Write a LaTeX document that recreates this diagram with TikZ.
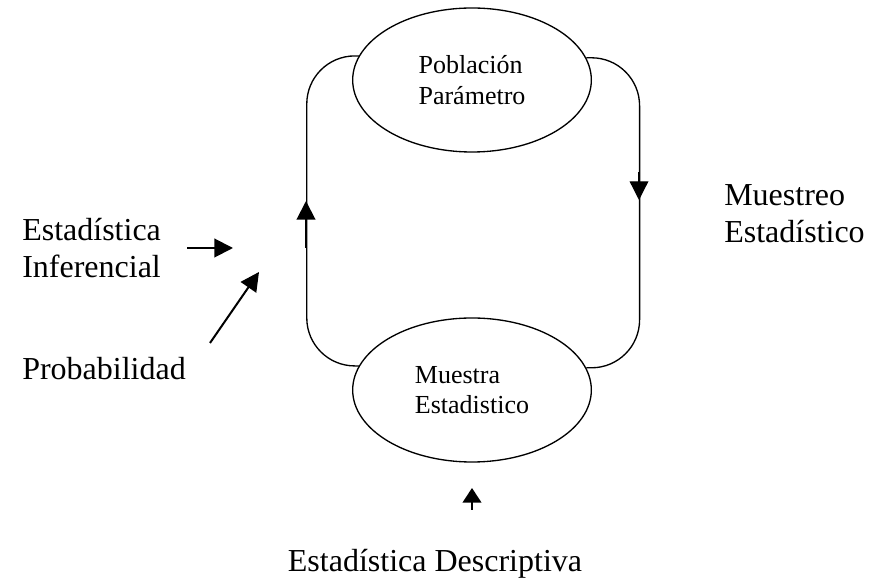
\documentclass[tikz,border=0pt]{standalone}
\usepackage{fontspec}
\setmainfont{Liberation Serif}
\usetikzlibrary{arrows.meta,shapes.geometric}

\begin{document}
\begin{tikzpicture}[x=0.75pt,y=-0.75pt,>={Triangle[length=14pt,width=14pt]}]
		\tikzset{
			every node/.style={inner sep=0pt},
			circulo/.style={draw,ellipse,line width=1pt,minimum width=179pt,minimum height=108pt,
				align=left,font=\fontsize{19.5}{23}\selectfont},
			rotulo/.style={align=left,anchor=base west,font=\fontsize{24}{28}\selectfont},
			linea/.style={line width=1pt,rounded corners=36pt},
			flecha/.style={->,line width=1.5pt}
		}
		\useasboundingbox (0,0) rectangle (872,580);
		\node(pob)[circulo] at (472,80) {Población\\Parámetro};
		\node(mue)[circulo] at (472,390) {Muestra\\Estadistico};
		\node(mues)[rotulo] at (724,243) {Muestreo\\Estadístico};
		\node(inf)[rotulo] at (22,278) {Estadística\\Inferencial};
		\node(prob)[rotulo] at (22,380) {Probabilidad};
		\node(desc)[rotulo,anchor=base] at (435,572) {Estadística Descriptiva};
		% ciclo entre poblacion y muestra
		\draw[linea] (mue.168.5) -| ([xshift=-39pt]pob.168.5) -- (pob.168.5);
		\draw[linea] (pob.11.5) -| ([xshift=40pt]mue.11.5) -- (mue.11.5);
		\coordinate (subecola) at (306,248); \coordinate (subepunta) at (306,201);
		\coordinate (bajacola) at (639,172); \coordinate (bajapunta) at (639,200);
		\draw[flecha] (subecola) -- (subepunta);
		\draw[flecha,line width=1pt] (bajacola) -- (bajapunta);
		% flechas de los rotulos
		\coordinate (infcola) at (187,248); \coordinate (infpunta) at (233,248);
		\coordinate (probcola) at (210,343); \coordinate (probpunta) at (259,272);
		\coordinate (desccola) at (472,510); \coordinate (descpunta) at (472,488);
		\draw[flecha] (infcola) -- (infpunta);
		\draw[flecha] (probcola) -- (probpunta);
		\draw[flecha,>={Triangle[length=11pt,width=14pt]}] (desccola) -- (descpunta);
\end{tikzpicture}
\end{document}
